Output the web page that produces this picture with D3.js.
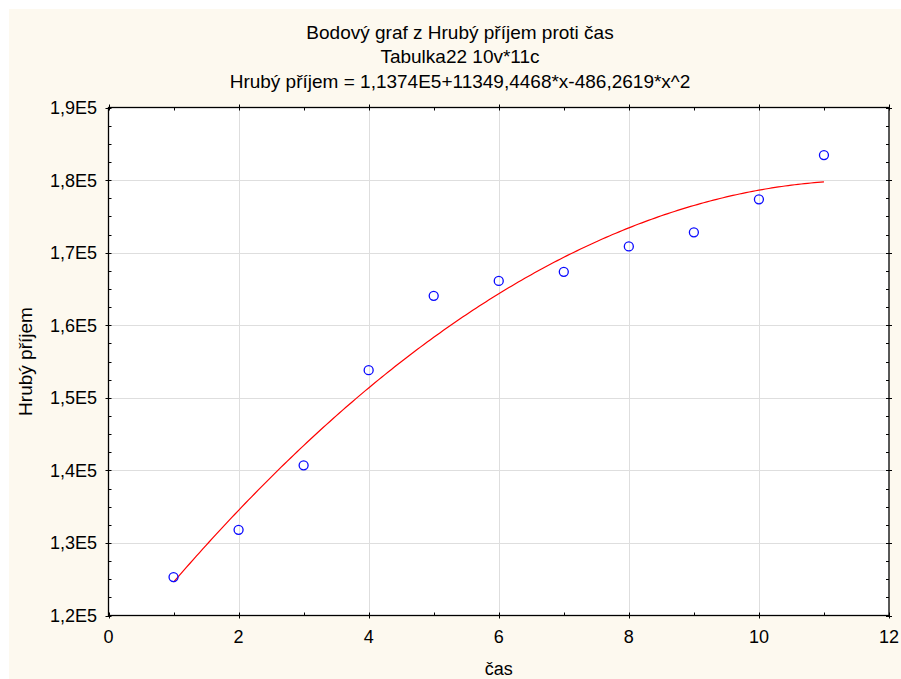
<!DOCTYPE html>
<html>
<head>
<meta charset="utf-8">
<script src="https://cdn.jsdelivr.net/npm/d3@7"></script>
<style>
  html, body { margin: 0; padding: 0; background: #ffffff; }
  svg { display: block; font-family: "Liberation Sans", Arial, sans-serif; }
</style>
</head>
<body>
<svg id="chart" width="901" height="679"></svg>
<script>
// Observations: time (čas) vs gross income (Hrubý příjem)
const casValues = [1, 2, 3, 4, 5, 6, 7, 8, 9, 10, 11];
const prijemValues = [125300, 131800, 140700, 153800, 164050, 166100, 167350, 170850, 172800, 177350, 183450];

// Quadratic fit coefficients: y = a + b*x + c*x^2
const fitA = 113740;
const fitB = 11349.4468;
const fitC = -486.2619;

const xTicks = [0, 2, 4, 6, 8, 10, 12];
const yTicks = [120000, 130000, 140000, 150000, 160000, 170000, 180000, 190000];
const yTickLabels = ["1,2E5", "1,3E5", "1,4E5", "1,5E5", "1,6E5", "1,7E5", "1,8E5", "1,9E5"];

const titleLines = [
  "Bodový graf z Hrubý příjem proti čas",
  "Tabulka22 10v*11c",
  "Hrubý příjem = 1,1374E5+11349,4468*x-486,2619*x^2"
];

(function () {
  const svg = d3.select("#chart");
  const W = 901, H = 679;
  const pL = 108.5, pR = 889, pT = 107.5, pB = 615.5;

  // Cream panel with thin white margin on top and left
  svg.append("rect").attr("x", 0).attr("y", 0).attr("width", W).attr("height", H).attr("fill", "#ffffff");
  svg.append("rect").attr("x", 9).attr("y", 9).attr("width", W - 9).attr("height", H - 9).attr("fill", "#fdf9ef");

  const x = d3.scaleLinear().domain([0, 12]).range([pL, pR]);
  const y = d3.scaleLinear().domain([120000, 190000]).range([pB, pT]);

  // Plot area
  svg.append("rect").attr("x", pL).attr("y", pT)
    .attr("width", pR - pL).attr("height", pB - pT).attr("fill", "#ffffff");

  // Grid lines
  const grid = svg.append("g").attr("stroke", "#dedede").attr("stroke-width", 1);
  xTicks.slice(1, -1).forEach(t => {
    grid.append("line").attr("x1", Math.round(x(t)) + 0.5).attr("x2", Math.round(x(t)) + 0.5)
      .attr("y1", pT).attr("y2", pB);
  });
  yTicks.slice(1, -1).forEach(t => {
    grid.append("line").attr("y1", Math.round(y(t)) + 0.5).attr("y2", Math.round(y(t)) + 0.5)
      .attr("x1", pL).attr("x2", pR);
  });

  // Minor ticks (inside) and major ticks on all four sides
  const ticks = svg.append("g").attr("stroke", "#000").attr("stroke-width", 1);
  d3.range(1, 12, 2).forEach(t => {
    const px = Math.round(x(t)) + 0.5;
    ticks.append("line").attr("x1", px).attr("x2", px).attr("y1", pB).attr("y2", pB - 3);
    ticks.append("line").attr("x1", px).attr("x2", px).attr("y1", pT).attr("y2", pT + 3);
  });
  xTicks.forEach(t => {
    const px = Math.round(x(t)) + 0.5;
    ticks.append("line").attr("x1", px).attr("x2", px).attr("y1", pB - 3).attr("y2", pB + 3);
    ticks.append("line").attr("x1", px).attr("x2", px).attr("y1", pT - 3).attr("y2", pT + 3);
  });
  d3.range(120000, 190000, 2500).filter(v => v % 10000 !== 0).forEach(t => {
    const py = Math.round(y(t)) + 0.5;
    ticks.append("line").attr("x1", pL).attr("x2", pL + 3).attr("y1", py).attr("y2", py);
    ticks.append("line").attr("x1", pR).attr("x2", pR - 3).attr("y1", py).attr("y2", py);
  });
  yTicks.forEach(t => {
    const py = Math.round(y(t)) + 0.5;
    ticks.append("line").attr("x1", pL - 3).attr("x2", pL + 3).attr("y1", py).attr("y2", py);
    ticks.append("line").attr("x1", pR - 3).attr("x2", pR + 3).attr("y1", py).attr("y2", py);
  });

  // Fitted curve
  const curvePts = d3.range(1, 11.001, 0.05).map(v => [v, fitA + fitB * v + fitC * v * v]);
  const line = d3.line().x(d => x(d[0])).y(d => y(d[1]));
  svg.append("path").datum(curvePts).attr("d", line)
    .attr("fill", "none").attr("stroke", "#ff0000").attr("stroke-width", 1.2);

  // Data points
  svg.append("g").selectAll("circle").data(casValues).join("circle")
    .attr("cx", d => x(d))
    .attr("cy", (d, i) => y(prijemValues[i]))
    .attr("r", 4.5)
    .attr("fill", "none").attr("stroke", "#0a0aff").attr("stroke-width", 1.3);

  // Plot frame
  svg.append("rect").attr("x", pL).attr("y", pT)
    .attr("width", pR - pL).attr("height", pB - pT)
    .attr("fill", "none").attr("stroke", "#000").attr("stroke-width", 1.3);

  // Tick labels
  const xAxisLabels = svg.append("g").attr("font-size", 18).attr("fill", "#000").attr("text-anchor", "middle");
  xTicks.forEach(t => {
    xAxisLabels.append("text").attr("x", x(t)).attr("y", 643).text(t);
  });
  const yAxisLabels = svg.append("g").attr("font-size", 18).attr("fill", "#000").attr("text-anchor", "end");
  yTicks.forEach((t, i) => {
    yAxisLabels.append("text").attr("x", 97).attr("y", y(t) + 6.5).text(yTickLabels[i]);
  });

  // Axis titles
  svg.append("text").attr("x", (pL + pR) / 2).attr("y", 675)
    .attr("text-anchor", "middle").attr("font-size", 18).text("čas");
  svg.append("text").attr("transform", "translate(32,361.5) rotate(-90)")
    .attr("text-anchor", "middle").attr("font-size", 19).text("Hrubý příjem");

  // Title block
  const titleY = [39, 63, 88];
  titleLines.forEach((txt, i) => {
    svg.append("text").attr("x", 460).attr("y", titleY[i])
      .attr("text-anchor", "middle").attr("font-size", 19).text(txt);
  });
})();
</script>
</body>
</html>
